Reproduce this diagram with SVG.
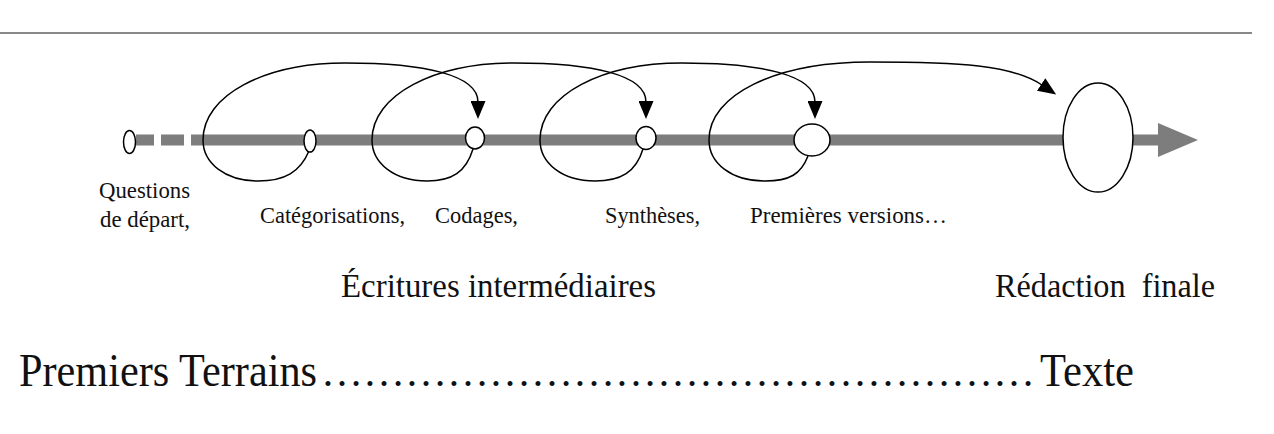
<svg xmlns="http://www.w3.org/2000/svg" width="1274" height="434" viewBox="0 0 1274 434">
<style>
.bar{fill:#7d7d7d}
.node{fill:#fff;stroke:#000;stroke-width:1.5}
.loop{fill:none;stroke:#000;stroke-width:1.5}
.lbl{font-family:"Liberation Serif","Times New Roman",serif;fill:#111}
.s{font-size:23px}
.m{font-size:34px}
.l{font-size:47px}
</style>
<defs>
<marker id="ah" markerWidth="18" markerHeight="15" refX="1" refY="7.5" orient="auto" markerUnits="userSpaceOnUse">
<path d="M0,0 L18,7.5 L0,15 z" fill="#000"/>
</marker>
</defs>
<rect width="1274" height="434" fill="#fff"/>
<line x1="0" y1="33" x2="1252" y2="33" stroke="#888" stroke-width="2"/>
<g id="axis">
<rect class="bar" x="136" y="134.5" width="18" height="11"/>
<rect class="bar" x="161" y="134.5" width="23" height="11"/>
<rect class="bar" x="191" y="134.5" width="970" height="11"/>
<polygon class="bar" points="1158,123 1198,140 1158,157"/>
</g>
<g id="connectors">
<path class="loop" d="M309 151 C300 172,285 181,258 181 C225 181,203 163,203 140 C203 95,265 63,345 63 C425 63,478 75,478 102" marker-end="url(#ah)"/>
<path class="loop" d="M473 149 C466 172,452 181,427 181 C394 181,372 163,372 140 C372 95,434 63,514 63 C594 63,646 75,646 102" marker-end="url(#ah)"/>
<path class="loop" d="M643 149 C636 172,621 181,595 181 C562 181,540 163,540 140 C540 95,602 63,682 63 C762 63,815 75,815 102" marker-end="url(#ah)"/>
<path class="loop" d="M808 156 C801 174,790 181,765 181 C731 181,709 163,709 140 C709 95,775 62,870 62 C960 62,1012 65,1042 85" marker-end="url(#ah)"/>
</g>
<g id="n-questions">
<ellipse class="node" cx="129.5" cy="142" rx="6" ry="11.5"/>
<text class="lbl s" x="99" y="198" textLength="91" lengthAdjust="spacingAndGlyphs">Questions</text>
<text class="lbl s" x="100" y="227" textLength="90" lengthAdjust="spacingAndGlyphs">de départ,</text>
</g>
<g id="n-categorisations">
<ellipse class="node" cx="310" cy="141" rx="6" ry="11"/>
<text class="lbl s" x="260" y="223" textLength="145" lengthAdjust="spacingAndGlyphs">Catégorisations,</text>
</g>
<g id="n-codages">
<ellipse class="node" cx="475" cy="138" rx="9.5" ry="11"/>
<text class="lbl s" x="435" y="223" textLength="83" lengthAdjust="spacingAndGlyphs">Codages,</text>
</g>
<g id="n-syntheses">
<ellipse class="node" cx="646" cy="138" rx="10" ry="11.5"/>
<text class="lbl s" x="605" y="223" textLength="95" lengthAdjust="spacingAndGlyphs">Synthèses,</text>
</g>
<g id="n-premieres">
<ellipse class="node" cx="812" cy="140" rx="18" ry="16"/>
<text class="lbl s" x="750" y="223" textLength="197" lengthAdjust="spacingAndGlyphs">Premières versions…</text>
</g>
<g id="n-final">
<ellipse class="node" cx="1098" cy="137.5" rx="35" ry="54.5"/>
</g>
<g id="captions">
<text class="lbl m" x="341" y="297" textLength="315" lengthAdjust="spacingAndGlyphs">Écritures intermédiaires</text>
<text class="lbl m" x="995" y="297" textLength="220" lengthAdjust="spacingAndGlyphs" xml:space="preserve">Rédaction  finale</text>
<text class="lbl l" y="386"><tspan x="19" textLength="298" lengthAdjust="spacingAndGlyphs">Premiers Terrains</tspan><tspan x="321" font-size="42">&#8230;&#8230;&#8230;&#8230;&#8230;&#8230;&#8230;&#8230;&#8230;&#8230;&#8230;&#8230;&#8230;&#8230;&#8230;&#8230;&#8230;</tspan><tspan x="1040" textLength="94" lengthAdjust="spacingAndGlyphs">Texte</tspan></text>
</g>
</svg>
